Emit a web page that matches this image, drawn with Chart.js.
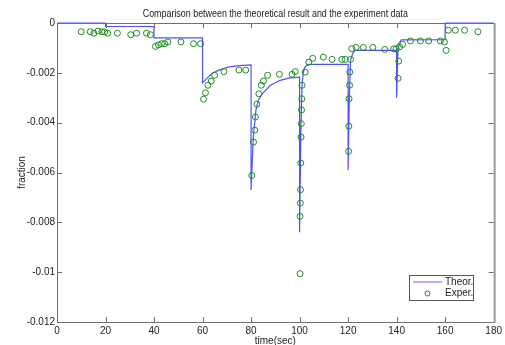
<!DOCTYPE html>
<html>
<head>
<meta charset="utf-8">
<script src="https://cdn.jsdelivr.net/npm/chart.js@4"></script>
<style>
  html, body { margin: 0; padding: 0; background: #fff; }
  #wrap { width: 505px; height: 345px; }
</style>
</head>
<body>
<div id="wrap"><canvas id="chart" width="505" height="345"></canvas></div>
<script>
// Theoretical curve (time in sec, fraction)
const theorTime = [0, 20, 20, 40, 40, 60, 60, 62, 64, 67, 71, 75, 80,
    80, 80.5, 81, 82, 83, 85, 88, 92, 96, 100,
    100, 100.5, 101, 101.5, 102, 103, 104, 120,
    120, 120.5, 121, 122, 123, 140,
    140, 140.5, 141, 142, 160, 160, 180];
const theorValue = [0, 0, -0.00014, -0.00014, -0.0006, -0.0006, -0.0024, -0.0022, -0.00202, -0.00188, -0.00176, -0.00171, -0.00168,
    -0.0067, -0.0055, -0.0045, -0.0035, -0.0031, -0.0028, -0.0025, -0.0023, -0.0022, -0.00217,
    -0.0084, -0.0045, -0.0025, -0.002, -0.0018, -0.0017, -0.00166, -0.00166,
    -0.0059, -0.003, -0.0015, -0.0012, -0.0011, -0.0011,
    -0.003, -0.0012, -0.0008, -0.00068, -0.00067, 0, 0];

// Experiment data
const experTime = [10, 13.7, 15.2, 16.9, 18.5, 19.6, 20.9, 24.9, 30.4, 32.8, 36.9, 38.5,
    40.6, 41.8, 43.1, 44.4, 45.7, 51.1, 56.3, 59.2,
    60.4, 61.2, 62.2, 63.6, 65, 68.8, 75, 77.8,
    80.3, 81, 81.5, 81.8, 82.4, 83.2, 84.2, 85.1, 86.8, 91.7, 96.9, 98.2,
    100.2, 100.2, 100.3, 100.4, 100.5, 100.6, 100.7, 100.8, 100.9, 101, 102.3, 103.8, 105.4, 109.8, 113.4, 117.4, 118.8,
    120.2, 120.3, 120.4, 120.6, 120.7, 121, 121.5, 123.3, 126.3, 130.2, 135.1, 138.8, 139.8,
    140.6, 140.9, 141.2, 142.5, 145.7, 149.8, 153.2, 158, 159.7,
    160.4, 161.3, 164.2, 168, 173.5];
const experValue = [-0.00035, -0.00035, -0.00041, -0.00032, -0.00035, -0.00036, -0.00041, -0.00041, -0.00047, -0.00041, -0.00041, -0.00047,
    -0.00094, -0.00088, -0.00083, -0.00083, -0.00076, -0.00076, -0.00083, -0.00083,
    -0.00306, -0.0028, -0.0025, -0.00233, -0.0021, -0.00195, -0.00189, -0.00189,
    -0.00612, -0.00478, -0.0043, -0.00377, -0.00326, -0.00284, -0.0025, -0.00233, -0.0021, -0.00206, -0.00206, -0.00195,
    -0.01006, -0.00776, -0.00723, -0.00669, -0.00562, -0.00458, -0.00404, -0.00349, -0.00304, -0.0025, -0.00197, -0.00157, -0.00142, -0.00137, -0.00146, -0.00146, -0.00146,
    -0.00515, -0.00414, -0.00304, -0.0025, -0.00197, -0.00146, -0.00103, -0.00098, -0.00098, -0.00098, -0.00106, -0.00104, -0.00104,
    -0.00222, -0.00153, -0.00096, -0.00086, -0.00072, -0.00072, -0.00072, -0.00072, -0.00076,
    -0.0011, -0.00029, -0.00029, -0.00029, -0.00035];

const xTicks = [0, 20, 40, 60, 80, 100, 120, 140, 160, 180];
const yTicks = [0, -0.002, -0.004, -0.006, -0.008, -0.01, -0.012];
const titleText = 'Comparison between the theoretical result and the experiment data';

const lineColor = 'rgb(80, 80, 255)';
const dotColor = 'rgb(30, 140, 30)';
const axisColor = '#707070';
const textColor = '#222';
const fontFamily = '"Liberation Sans", Arial, sans-serif';

// Box around the plot with inward ticks, title and legend (MATLAB style)
const boxPlugin = {
    id: 'boxPlugin',
    afterDraw(chart) {
        const c = chart.ctx;
        const a = chart.chartArea;
        const xs = chart.scales.x, ys = chart.scales.y;
        c.save();
        c.strokeStyle = axisColor;
        c.lineWidth = 1;
        c.beginPath();
        c.moveTo(a.left + 0.5, a.top + 0.5);
        c.lineTo(a.right + 0.5, a.top + 0.5);
        c.moveTo(a.left + 0.5, a.top + 0.5);
        c.lineTo(a.left + 0.5, a.bottom + 0.5);
        c.lineTo(a.right + 0.5, a.bottom + 0.5);
        xTicks.forEach(t => {
            const px = Math.round(xs.getPixelForValue(t)) + 0.5;
            c.moveTo(px, a.bottom);
            c.lineTo(px, a.bottom - 5);
            c.moveTo(px, a.top);
            c.lineTo(px, a.top + 5);
        });
        yTicks.forEach(t => {
            const py = Math.round(ys.getPixelForValue(t)) + 0.5;
            c.moveTo(a.left, py);
            c.lineTo(a.left + 5, py);
            c.moveTo(a.right, py);
            c.lineTo(a.right - 5, py);
        });
        c.stroke();
        // right edge is a bit heavier in the original
        c.strokeStyle = '#9a9a9a';
        c.lineWidth = 2;
        c.beginPath();
        c.moveTo(a.right + 1, a.top);
        c.lineTo(a.right + 1, a.bottom + 1);
        c.stroke();

        // title, centred over the plot area, slightly condensed
        c.fillStyle = textColor;
        c.font = '10px ' + fontFamily;
        c.textBaseline = 'middle';
        c.textAlign = 'center';
        c.save();
        c.translate((a.left + a.right) / 2, 14);
        c.scale(0.89, 1);
        c.fillText(titleText, 0, 0);
        c.restore();

        // legend
        const lx = 409, ly = 275, lw = 64, lh = 25;
        c.fillStyle = '#fff';
        c.fillRect(lx, ly, lw, lh);
        c.strokeStyle = '#555';
        c.lineWidth = 1;
        c.strokeRect(lx + 0.5, ly + 0.5, lw, lh);
        c.strokeStyle = 'rgb(150, 150, 255)';
        c.lineWidth = 1.5;
        c.beginPath();
        c.moveTo(413, 282);
        c.lineTo(442, 282);
        c.stroke();
        c.strokeStyle = dotColor;
        c.lineWidth = 1;
        c.beginPath();
        c.arc(427.5, 293.5, 2.5, 0, Math.PI * 2);
        c.stroke();
        c.fillStyle = textColor;
        c.textAlign = 'left';
        c.fillText('Theor.', 445, 282);
        c.fillText('Exper.', 445, 293.5);
        c.restore();
    }
};

const theorPoints = theorTime.map((t, i) => ({ x: t, y: theorValue[i] }));
const experPoints = experTime.map((t, i) => ({ x: t, y: experValue[i] }));

new Chart(document.getElementById('chart').getContext('2d'), {
    type: 'scatter',
    data: {
        datasets: [
            {
                label: 'Theor.',
                data: theorPoints,
                showLine: true,
                borderColor: lineColor,
                borderWidth: 1.2,
                pointRadius: 0,
                tension: 0,
                clip: 4,
                order: 2
            },
            {
                label: 'Exper.',
                data: experPoints,
                showLine: false,
                pointStyle: 'circle',
                pointRadius: 3,
                pointBorderWidth: 1,
                pointBorderColor: dotColor,
                pointBackgroundColor: 'rgba(0,0,0,0)',
                clip: 6,
                order: 1
            }
        ]
    },
    options: {
        responsive: false,
        animation: false,
        layout: { padding: { left: 0, right: 10, top: 23, bottom: 0 } },
        plugins: {
            legend: { display: false },
            tooltip: { enabled: false },
            title: { display: false }
        },
        scales: {
            x: {
                type: 'linear',
                min: 0,
                max: 180,
                afterBuildTicks: s => { s.ticks = xTicks.map(v => ({ value: v })); },
                afterFit: s => { s.height = 23; },
                grid: { display: false, drawTicks: false },
                border: { display: false },
                ticks: {
                    color: textColor,
                    padding: 3,
                    maxRotation: 0,
                    font: { family: fontFamily, size: 10 }
                },
                title: {
                    display: true,
                    text: 'time(sec)',
                    color: textColor,
                    padding: { top: 0, bottom: -2 },
                    font: { family: fontFamily, size: 10 }
                }
            },
            y: {
                type: 'linear',
                min: -0.012,
                max: 0,
                afterBuildTicks: s => { s.ticks = yTicks.map(v => ({ value: v })); },
                afterFit: s => { s.width = 57; },
                grid: { display: false, drawTicks: false },
                border: { display: false },
                ticks: {
                    color: textColor,
                    padding: 2,
                    font: { family: fontFamily, size: 10 },
                    callback: v => v === 0 ? '0' : String(+v.toFixed(3))
                },
                title: {
                    display: true,
                    text: 'fraction',
                    color: textColor,
                    padding: { top: 16, bottom: 0 },
                    font: { family: fontFamily, size: 10 }
                }
            }
        }
    },
    plugins: [boxPlugin]
});
</script>
</body>
</html>
